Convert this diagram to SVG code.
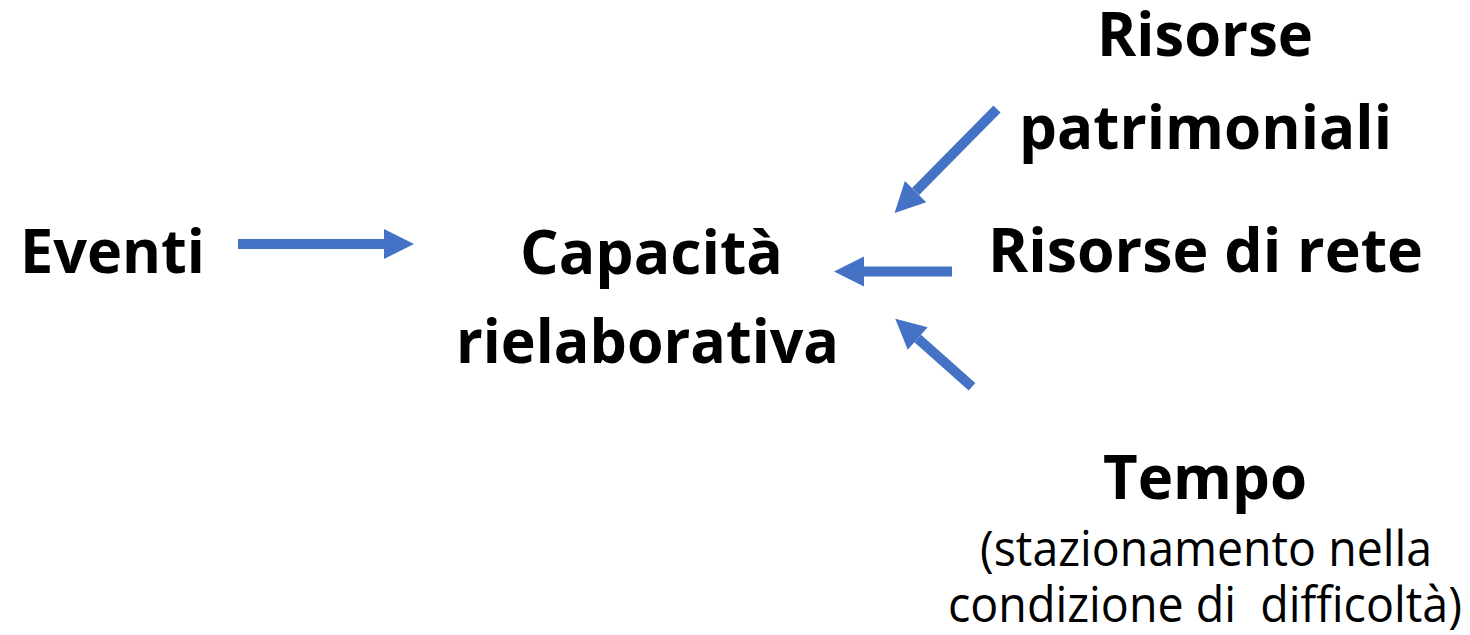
<svg xmlns="http://www.w3.org/2000/svg" width="1470" height="635" viewBox="0 0 1470 635">
<style>
.b{font-family:"Open Sans","Liberation Sans",sans-serif;font-weight:700;font-size:60px;fill:#000}
.r{font-family:"Open Sans","Liberation Sans",sans-serif;font-weight:400;font-size:49px;fill:#000}
.c line{stroke:#4472C4;stroke-width:10;marker-end:url(#ah)}
</style>
<defs>
<marker id="ah" markerUnits="strokeWidth" markerWidth="3" markerHeight="3" viewBox="0 0 2.9 2.9" refX="0" refY="1.45" orient="auto" overflow="visible">
<path d="M0,0 L2.9,1.45 L0,2.9 z" fill="#4472C4"/>
</marker>
</defs>
<rect width="1470" height="635" fill="#fff"/>
<g id="eventi"><text class="b" x="20" y="273" textLength="185" lengthAdjust="spacingAndGlyphs">Eventi</text></g>
<g id="capacita">
<text class="b" x="520" y="274" textLength="263" lengthAdjust="spacingAndGlyphs">Capacità</text>
<text class="b" x="456" y="363" textLength="383" lengthAdjust="spacingAndGlyphs">rielaborativa</text>
</g>
<g id="risorse-patrimoniali">
<text class="b" x="1097" y="56" textLength="216" lengthAdjust="spacingAndGlyphs">Risorse</text>
<text class="b" x="1019" y="149" textLength="373" lengthAdjust="spacingAndGlyphs">patrimoniali</text>
</g>
<g id="risorse-rete"><text class="b" x="988" y="272" textLength="435" lengthAdjust="spacingAndGlyphs">Risorse di rete</text></g>
<g id="tempo">
<text class="b" x="1103" y="499" textLength="204" lengthAdjust="spacingAndGlyphs">Tempo</text>
<text class="r" x="980" y="566" textLength="452" lengthAdjust="spacingAndGlyphs">(stazionamento nella</text>
<text class="r" x="948" y="622" textLength="514" lengthAdjust="spacingAndGlyphs" xml:space="preserve">condizione di  difficoltà)</text>
</g>
<g class="c" id="connectors">
<line x1="238" y1="244" x2="384" y2="244"/>
<line x1="952" y1="271.5" x2="864" y2="271.5"/>
<line x1="997" y1="109" x2="915.6" y2="191.6"/>
<line x1="972" y1="386.7" x2="917.7" y2="338.6"/>
</g>
</svg>
